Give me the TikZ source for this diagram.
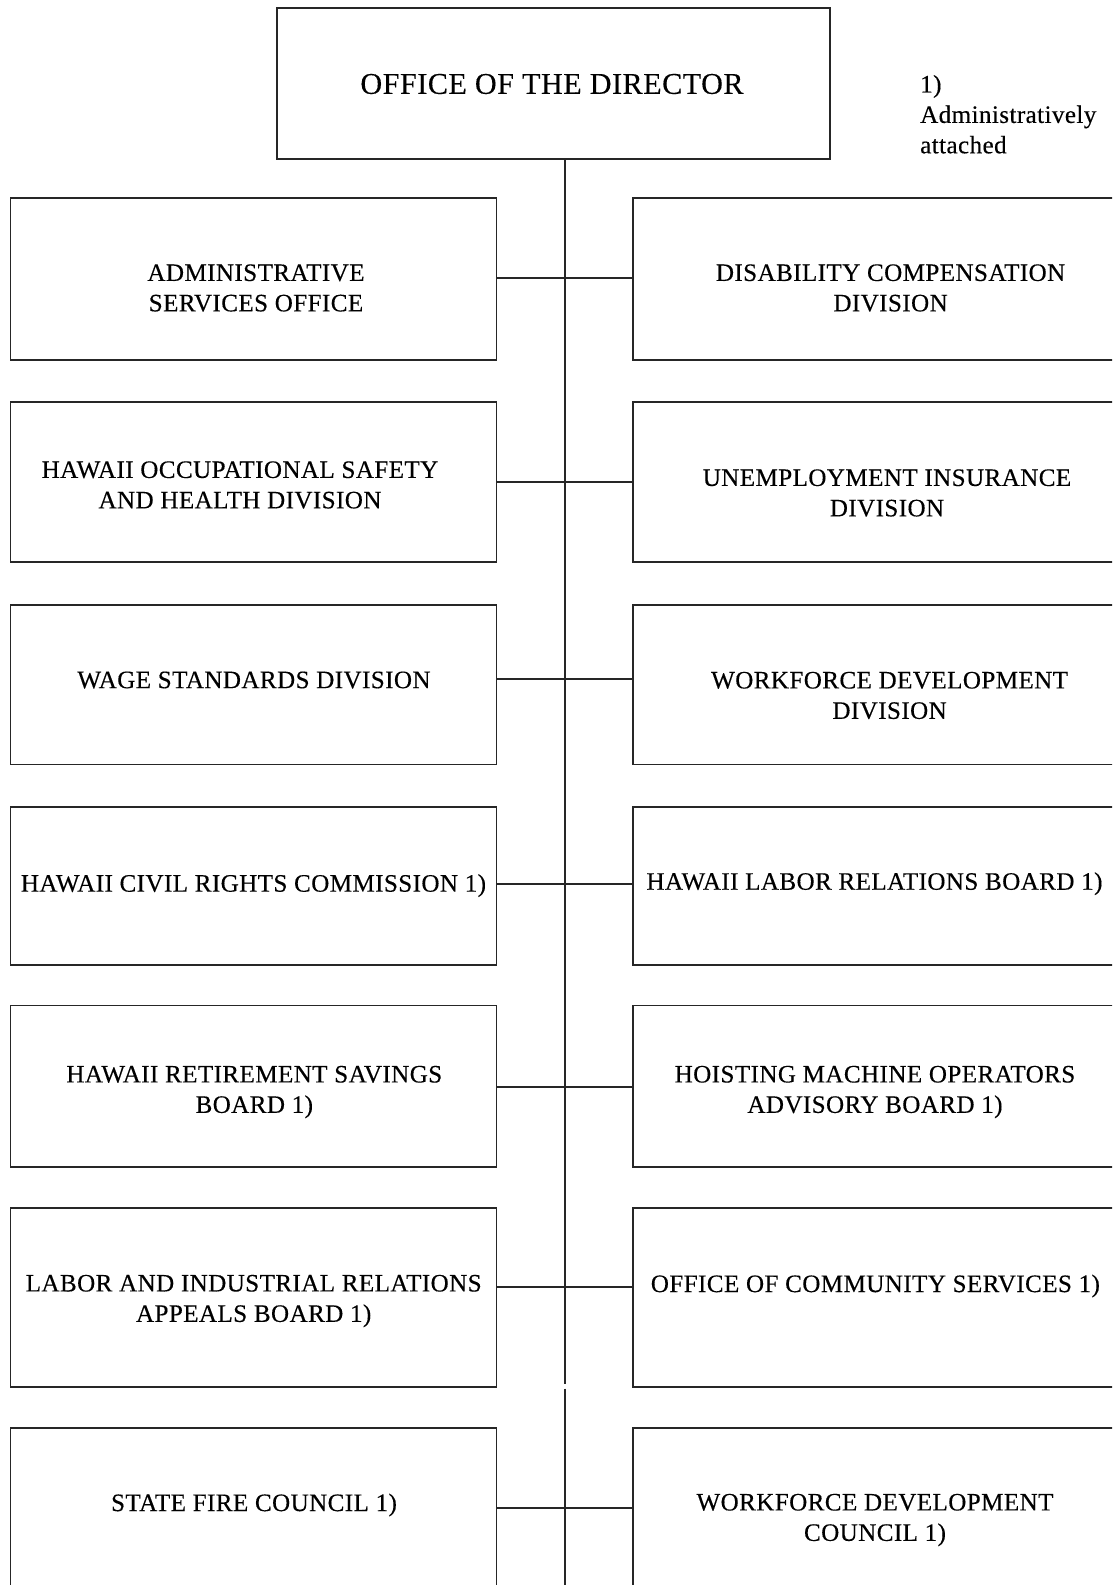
\documentclass[tikz,border=0pt]{standalone}
\usepackage{fontspec}
\setmainfont[LetterSpace=1.6,FakeBold=0.3]{Liberation Serif}
\begin{document}
\begin{tikzpicture}[x=1pt,y=-1pt,
  ln/.style={draw=black!85,line width=1.8pt},
  orgbox/.style={ln,rectangle,inner sep=0pt,minimum width=#1},
  lbox/.style={orgbox=486pt},
  rbox/.style={orgbox=497pt},
  lbl/.style={inner sep=0pt,align=center,text=black,font=\fontsize{25.1}{30.4}\selectfont},
  conn/.style={ln}
]
\useasboundingbox (0,0) rectangle (1112,1585);
\clip (0,0) rectangle (1112,1585);
\fill[white] (0,0) rectangle (1112,1585);

% director
\node[orgbox=553pt,minimum height=151pt] (dir) at (553.5,83.5) {};
\node[lbl,font=\fontsize{30.2}{36}\selectfont] (dirt) at (552,84) {OFFICE OF THE DIRECTOR};
\node[inner sep=0pt,align=left,anchor=west,font=\fontsize{25.1}{30.4}\selectfont] (note) at (920,114.3) {1)\\Administratively\\attached};

% left boxes
\node[lbox,minimum height=162pt] (L1) at (253.5,279) {};
\node[lbox,minimum height=160pt] (L2) at (253.5,482) {};
\node[lbox,minimum height=159.5pt] (L3) at (253.5,684.75) {};
\node[lbox,minimum height=157.7pt] (L4) at (253.5,886.15) {};
\node[lbox,minimum height=161.5pt] (L5) at (253.5,1086.25) {};
\node[lbox,minimum height=178.4pt] (L6) at (253.5,1297.5) {};
\node[lbox,minimum height=200pt] (L7) at (253.5,1527.7) {};

% right boxes
\node[rbox,minimum height=162pt] (R1) at (881.8,279) {};
\node[rbox,minimum height=160pt] (R2) at (881.8,482) {};
\node[rbox,minimum height=159.5pt] (R3) at (881.8,684.75) {};
\node[rbox,minimum height=157.7pt] (R4) at (881.8,886.15) {};
\node[rbox,minimum height=161.5pt] (R5) at (881.8,1086.25) {};
\node[rbox,minimum height=178.4pt] (R6) at (881.8,1297.5) {};
\node[rbox,minimum height=200pt] (R7) at (881.8,1527.7) {};

% left texts
\node[lbl] (L1t) at (256,288) {ADMINISTRATIVE\\SERVICES OFFICE};
\node[lbl] (L2t) at (240,485) {HAWAII OCCUPATIONAL SAFETY\\AND HEALTH DIVISION};
\node[lbl] (L3t) at (254,680) {WAGE STANDARDS DIVISION};
\node[lbl] (L4t) at (253.5,885.6) {HAWAII CIVIL RIGHTS COMMISSION 1)};
\node[lbl] (L5t) at (254.3,1092) {HAWAII RETIREMENT SAVINGS\\BOARD 1)};
\node[lbl] (L6t) at (253.7,1301) {LABOR AND INDUSTRIAL RELATIONS\\APPEALS BOARD 1)};
\node[lbl] (L7t) at (254,1505) {STATE FIRE COUNCIL 1)};

% right texts
\node[lbl] (R1t) at (890.6,288) {DISABILITY COMPENSATION\\DIVISION};
\node[lbl] (R2t) at (887,493) {UNEMPLOYMENT INSURANCE\\DIVISION};
\node[lbl] (R3t) at (889.6,695.5) {WORKFORCE DEVELOPMENT\\DIVISION};
\node[lbl] (R4t) at (874.5,883.7) {HAWAII LABOR RELATIONS BOARD 1)};
\node[lbl] (R5t) at (875,1092) {HOISTING MACHINE OPERATORS\\ADVISORY BOARD 1)};
\node[lbl] (R6t) at (875.4,1286) {OFFICE OF COMMUNITY SERVICES 1)};
\node[lbl] (R7t) at (875,1520) {WORKFORCE DEVELOPMENT\\COUNCIL 1)};

% spine
\coordinate (gapTop) at (565,1384);
\coordinate (gapBot) at (565,1388.5);
\coordinate (spineEnd) at (565,1600);
\draw[conn] (dir.south -| gapTop) -- (gapTop);
\draw[conn] (gapBot) -- (spineEnd);

% connector levels
\coordinate (c1) at (565,278);
\coordinate (c2) at (565,481.7);
\coordinate (c3) at (565,679.3);
\coordinate (c4) at (565,883.7);
\coordinate (c5) at (565,1086.7);
\coordinate (c6) at (565,1286.7);
\coordinate (c7) at (565,1508.3);
\foreach \i in {1,...,7}{
  \draw[conn] (L\i.east |- c\i) -- (R\i.west |- c\i);
}
\end{tikzpicture}
\end{document}
